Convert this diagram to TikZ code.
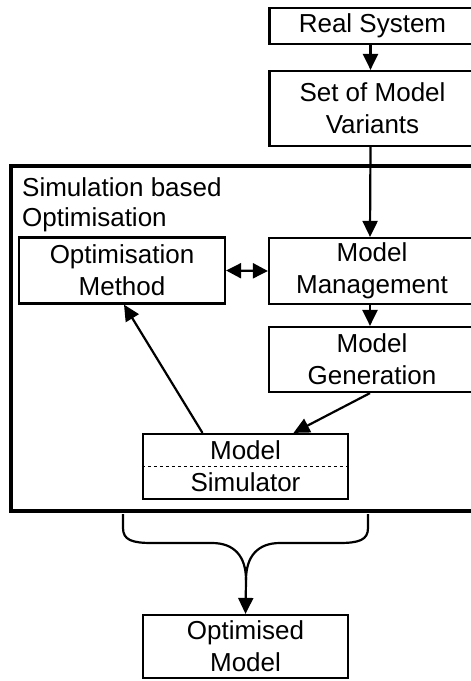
\documentclass[tikz,border=0pt]{standalone}
\usepackage{fontspec}
\setmainfont{Liberation Sans}
\usetikzlibrary{arrows.meta,calc}
\begin{document}
\begin{tikzpicture}[x=1pt,y=-1pt,
  box/.style={draw,line width=2.2pt,minimum width=206pt,minimum height=66pt,align=center,inner sep=0pt,font=\fontsize{26}{32}\selectfont},
  arr/.style={line width=2.2pt,-{Triangle[length=16pt,width=15pt]}},
  darr/.style={line width=2.2pt,{Triangle[length=15pt,width=15pt]}-{Triangle[length=15pt,width=15pt]}}]
\clip (0,0) rectangle (471,681);
\useasboundingbox (0,0) rectangle (471,681);
% outer frame
\node[draw,line width=3.8pt,minimum width=470pt,minimum height=345pt,inner sep=0pt] (sbo) at (246,338.5) {};
\node[anchor=base west,inner sep=0pt,align=left,font=\fontsize{26}{32}\selectfont] (title) at (22,196) {Simulation based};
\node[anchor=base west,inner sep=0pt,font=\fontsize{26}{32}\selectfont] (title2) at (22,226) {Optimisation};
% boxes
\node[box,minimum height=36pt] (rs) at (372.5,26) {Real System};
\node[box,minimum height=75pt] (smv) at (372.5,108.5) {Set of Model\\Variants};
\node[box] (mm) at (372,271) {Model\\Management};
\node[box,minimum height=65pt] (mg) at (372,359.5) {Model\\Generation};
\node[box] (om) at (122,270.5) {Optimisation\\Method};
\node[box,minimum width=205pt,minimum height=65pt] (ms) at (245.5,466.5) {Model\\Simulator};
\draw[dashed,line width=1pt] (ms.west) -- (ms.east);
\node[box,minimum width=205pt,minimum height=63pt] (opt) at (245.5,646.5) {Optimised\\Model};
% arrows
\draw[arr] ($(rs.south)+(-2,0)$) -- ($(smv.north)+(-2,0)$);
\draw[arr] ($(smv.south)+(-2,0)$) -- ($(mm.north)+(-2,0)$);
\draw[arr] ($(mm.south)+(-2,0)$) -- ($(mg.north)+(-2,0)$);
\draw[darr] (om.east) -- (mm.west);
\draw[arr] ($(mg.south)+(-2,0)$) -- ($(ms.north)+(48,0)$);
\draw[arr] ($(ms.north)+(-43,0)$) -- ($(om.south)+(2,0)$);
% brace
\coordinate (bt) at (246,580);
\draw[line width=2.2pt] (123,514) -- (123,528) .. controls (123,540) and (132,543) .. (152,543) -- (212,543) .. controls (234,543) and (246,556) .. (bt);
\draw[line width=2.2pt] (368,514) -- (368,528) .. controls (368,540) and (359,543) .. (339,543) -- (280,543) .. controls (258,543) and (246,556) .. (bt);
\draw[arr] (bt) -- (opt.north);
\end{tikzpicture}
\end{document}
